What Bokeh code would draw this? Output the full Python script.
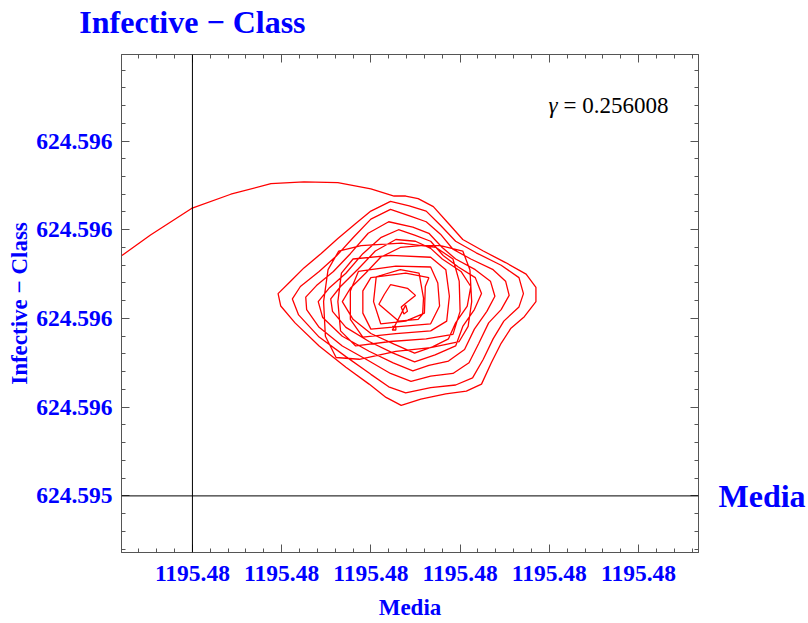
from bokeh.plotting import figure
from bokeh.models import FixedTicker, LinearAxis, Label, Span, Range1d
from bokeh.embed import file_html
from bokeh.resources import INLINE

# ---- axis ticks (offsets in last digits; all labels print identically) ----
x_ticks = [0, 100, 200, 300, 400, 500]
x_tick_labels = ["1195.48", "1195.48", "1195.48", "1195.48", "1195.48", "1195.48"]
y_ticks = [0, 100, 200, 300, 400]
y_tick_labels = ["624.595", "624.596", "624.596", "624.596", "624.596"]
x_minor = [v for v in range(-60, 580, 20) if v % 100 != 0]
y_minor = [v for v in range(-60, 500, 20) if v % 100 != 0]

x_axis_name = "Media"
y_axis_name = "Infective − Class"
gamma_value = "0.256008"

# ---- trajectory (Media, Infective) offsets ----
entry_x = [-79, -47, -1, 43, 88, 125, 163, 200, 226]
entry_y = [271, 294, 324, 340, 352, 354, 353, 346, 338]

loop1_x = [239, 253, 270, 287, 303, 326, 351, 374, 385, 385, 372, 357, 346, 335, 324, 307, 284, 256, 234, 217, 198, 172, 142, 115, 99, 96, 110, 125, 144, 163, 183, 200, 222]
loop1_y = [338, 335, 326, 307, 289, 276, 263, 250, 235, 219, 202, 189, 172, 150, 126, 118, 115, 109, 102, 111, 126, 145, 169, 195, 214, 228, 242, 257, 273, 290, 307, 321, 332]

loop2_x = [243, 262, 278, 295, 318, 346, 366, 371, 366, 349, 337, 326, 314, 295, 267, 239, 220, 200, 172, 142, 119, 112, 121, 142, 161, 180, 200, 222]
loop2_y = [327, 321, 305, 287, 274, 260, 246, 228, 213, 197, 177, 154, 133, 125, 122, 116, 123, 137, 157, 179, 204, 222, 236, 253, 270, 291, 312, 323]

loop3_x = [245, 262, 278, 292, 312, 337, 351, 355, 346, 332, 321, 310, 292, 267, 245, 222, 198, 168, 142, 128, 127, 139, 158, 177, 197, 220]
loop3_y = [315, 309, 295, 278, 267, 255, 242, 226, 210, 195, 172, 150, 138, 135, 129, 138, 152, 169, 190, 210, 224, 237, 253, 273, 296, 309]

loop4_x = [247, 265, 280, 295, 317, 334, 339, 330, 316, 305, 287, 265, 247, 225, 198, 168, 146, 141, 153, 172, 191, 211, 231]
loop4_y = [303, 296, 280, 267, 255, 242, 225, 208, 188, 165, 152, 147, 141, 150, 163, 180, 201, 219, 234, 251, 273, 291, 300]

loop5_x = [249, 267, 281, 298, 317, 324, 316, 303, 295, 272, 249, 225, 198, 172, 157, 155, 166, 186, 205, 228]
loop5_y = [294, 287, 271, 258, 246, 228, 210, 191, 169, 159, 151, 161, 174, 190, 208, 222, 236, 256, 276, 289]

loop6_x = [250, 267, 280, 301, 312, 308, 295, 287, 269, 249, 226, 200, 180, 168, 177, 194, 211, 233, 256]
loop6_y = [287, 279, 267, 253, 236, 214, 195, 177, 168, 161, 171, 183, 199, 219, 234, 251, 269, 280, 282]

sq1_x = [278, 303, 311, 313, 309, 299, 267, 228, 187, 161, 149, 147, 152, 164, 189, 234, 273]
sq1_y = [282, 276, 255, 219, 191, 174, 167, 163, 154, 156, 180, 219, 255, 276, 282, 285, 280]

sq2_x = [292, 299, 300, 292, 262, 222, 183, 166, 163, 167, 180, 222, 267]
sq2_y = [267, 242, 208, 182, 177, 174, 169, 186, 219, 251, 267, 271, 269]

sq3_x = [284, 288, 285, 267, 228, 191, 177, 177, 186, 228, 267]
sq3_y = [255, 225, 197, 186, 183, 179, 199, 231, 253, 259, 258]

sq4_x = [275, 277, 267, 234, 200, 191, 191, 200, 239, 265]
sq4_y = [240, 214, 194, 191, 188, 206, 231, 246, 251, 246]

sq5_x = [261, 260, 239, 211, 203, 206, 233, 254]
sq5_y = [236, 206, 197, 194, 219, 247, 255, 251]

core_x = [259, 258, 253, 231, 209, 215, 222, 241, 250, 239, 234, 237, 241, 239, 226, 224, 228, 228, 224, 226]
core_y = [223, 205, 199, 197, 216, 227, 238, 234, 226, 217, 213, 205, 208, 215, 190, 191, 191, 187, 187, 190]

media = (entry_x + loop1_x + loop2_x + loop3_x + loop4_x + loop5_x + loop6_x
         + sq1_x + sq2_x + sq3_x + sq4_x + sq5_x + core_x)
infective = (entry_y + loop1_y + loop2_y + loop3_y + loop4_y + loop5_y + loop6_y
             + sq1_y + sq2_y + sq3_y + sq4_y + sq5_y + core_y)

FONT = "Liberation Serif"
BLUE = "#0000ff"
FRAME = "#555555"

p = figure(width=808, height=623,
           x_range=Range1d(-79.5, 567.2), y_range=Range1d(-63.8, 497.5),
           output_backend="svg", toolbar_location=None,
           min_border_left=121, min_border_right=110, min_border_top=53, min_border_bottom=71,
           background_fill_color="white", border_fill_color="white")
p.grid.visible = False
p.outline_line_color = FRAME
p.outline_line_width = 1


def style_axis(ax, ticks, minor, overrides):
    ax.ticker = FixedTicker(ticks=ticks, minor_ticks=minor)
    ax.major_tick_in = 8
    ax.major_tick_out = 0
    ax.minor_tick_in = 4
    ax.minor_tick_out = 0
    ax.major_tick_line_color = FRAME
    ax.minor_tick_line_color = FRAME
    ax.axis_line_color = FRAME
    ax.major_label_overrides = overrides
    ax.major_label_text_font = FONT
    ax.major_label_text_font_style = "bold"
    ax.major_label_text_color = BLUE


xa = p.xaxis[0]
style_axis(xa, x_ticks, x_minor, {t: l for t, l in zip(x_ticks, x_tick_labels)})
xa.major_label_text_font_size = "23.5px"
xa.major_label_standoff = 13
xa.axis_label = x_axis_name
xa.axis_label_text_font = FONT
xa.axis_label_text_font_style = "bold"
xa.axis_label_text_font_size = "23px"
xa.axis_label_text_color = BLUE
xa.axis_label_standoff = 11

ya = p.yaxis[0]
style_axis(ya, y_ticks, y_minor, {t: l for t, l in zip(y_ticks, y_tick_labels)})
ya.major_label_text_font_size = "23.5px"
ya.major_label_standoff = 9
ya.axis_label = y_axis_name
ya.axis_label_text_font = FONT
ya.axis_label_text_font_style = "bold"
ya.axis_label_text_font_size = "23px"
ya.axis_label_text_color = BLUE
ya.axis_label_standoff = 1

# top frame edge: ticks, plus the vertical axis' name above the axis line
top_ax = LinearAxis()
style_axis(top_ax, x_ticks, x_minor, {t: (y_axis_name if t == 0 else "") for t in x_ticks})
top_ax.major_label_text_font_size = "32px"
top_ax.major_label_standoff = 15
p.add_layout(top_ax, "above")

# right frame edge: ticks, plus the horizontal axis' name beside the axis line
right_ax = LinearAxis()
style_axis(right_ax, y_ticks, y_minor, {t: (x_axis_name if t == 0 else "") for t in y_ticks})
right_ax.major_label_text_font_size = "32px"
right_ax.major_label_standoff = 20
p.add_layout(right_ax, "right")

# coordinate axes crossing at the origin
p.add_layout(Span(location=0, dimension="height", line_color="black", line_width=1))
p.add_layout(Span(location=0, dimension="width", line_color="black", line_width=1))

p.line(media, infective, line_color="#ff0000", line_width=1.3)

# gamma annotation
p.add_layout(Label(x=399, y=440, text="γ", text_align="left", text_baseline="alphabetic",
                   text_font=FONT, text_font_style="italic", text_font_size="23px",
                   text_color="black"))
p.add_layout(Label(x=416, y=440, text="= " + gamma_value, text_align="left",
                   text_baseline="alphabetic", text_font=FONT, text_font_size="23px",
                   text_color="black"))

open("out.html", "w").write(file_html(p, INLINE))
